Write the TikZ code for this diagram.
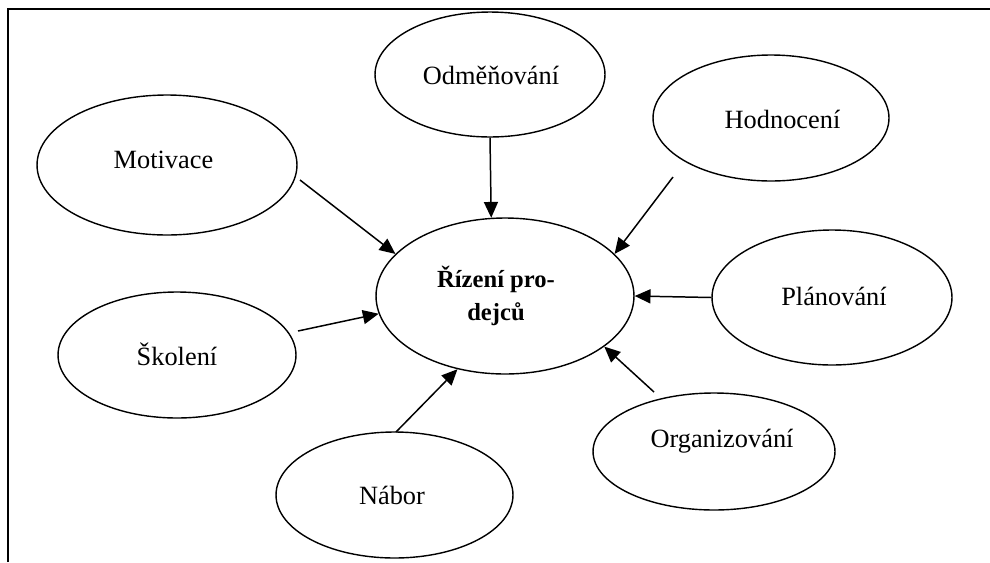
\documentclass[tikz,border=0pt]{standalone}
\usepackage{fontspec}
\setmainfont{Liberation Serif}
\usetikzlibrary{shapes.geometric,arrows.meta}
\begin{document}
\begin{tikzpicture}[x=0.02cm,y=-0.02cm,
	bubble/.style={draw,ellipse,line width=0.8pt,inner sep=0pt},
	word/.style={anchor=base,inner sep=0pt,font=\fontsize{15}{19}\selectfont},
	tip/.style={line width=0.85pt,-{Triangle[length=9pt,width=8pt]}}]
		\useasboundingbox (0,0) rectangle (990,562);
		\draw[line width=1.1pt] (8,562) -- (8,9) -- (990,9);
		% centre
		\node[bubble,minimum width=5.16cm,minimum height=3.12cm] (riz) at (505,296) {};
		\node[word,anchor=center,align=center,font=\fontsize{14}{18.8}\selectfont\bfseries] (riz-t) at (496,296) {Řízení pro-\\dejců};
		% around it
		\node[bubble,minimum width=4.6cm,minimum height=2.5cm] (odm) at (490,74.5) {};
		\node[word] (odm-t) at (491,84) {Odměňování};
		\node[bubble,minimum width=5.2cm,minimum height=2.8cm] (mot) at (167,165) {};
		\node[word] (mot-t) at (163.5,168) {Motivace};
		\node[bubble,minimum width=4.72cm,minimum height=2.52cm] (hod) at (771,118) {};
		\node[word] (hod-t) at (782.5,128) {Hodnocení};
		\node[bubble,minimum width=4.8cm,minimum height=2.7cm] (plan) at (832,297.5) {};
		\node[word] (plan-t) at (834,305) {Plánování};
		\node[bubble,minimum width=4.76cm,minimum height=2.52cm] (skol) at (177,355) {};
		\node[word] (skol-t) at (177,365) {Školení};
		\node[bubble,minimum width=4.84cm,minimum height=2.34cm] (org) at (714,451.5) {};
		\node[word] (org-t) at (722,447) {Organizování};
		\node[bubble,minimum width=4.74cm,minimum height=2.52cm] (nab) at (394.5,495) {};
		\node[word] (nab-t) at (392,504) {Nábor};
		% arrows
		\coordinate (mot-out) at (300,180);
		\coordinate (hod-out) at (673,177);
		\coordinate (org-out) at (654,392);
		\coordinate (nab-out) at (396,432);
		\coordinate (skol-out) at (298,331);
		\draw[tip] (mot-out) -- (riz.159);
		\draw[tip] (odm.south) -- (riz.100);
		\draw[tip] (hod-out) -- (riz.21);
		\draw[tip] (plan.west) -- (riz.east);
		\draw[tip] (org-out) -- (riz.-27);
		\draw[tip] (nab-out) -- (riz.-123);
		\draw[tip] (skol-out) -- (riz.-172);
\end{tikzpicture}
\end{document}
